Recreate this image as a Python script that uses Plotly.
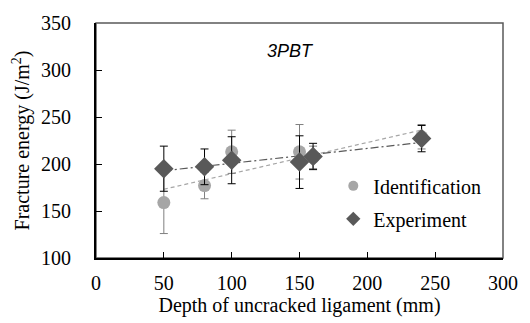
import numpy as np
import plotly.graph_objects as go

depth = [50, 80, 100, 150, 160, 240]
ident = [159, 177, 213, 213, 207, 229]
ident_err = [33, 14, 23, 29, 12, 13]
exper = [195, 197, 204, 202, 208, 227]
exper_err = [24, 19, 25, 28, 14, 14]

x_ticks = [0, 50, 100, 150, 200, 250, 300]
y_ticks = [100, 150, 200, 250, 300, 350]

xs = np.array([min(depth), max(depth)])
pi = np.polyfit(depth, ident, 1)
pe = np.polyfit(depth, exper, 1)

fig = go.Figure()
fig.add_trace(go.Scatter(x=xs, y=np.polyval(pi, xs), mode="lines",
                         line=dict(color="#A6A6A6", width=1.2, dash="4px,3px"),
                         showlegend=False, hoverinfo="skip"))
fig.add_trace(go.Scatter(x=xs, y=np.polyval(pe, xs), mode="lines",
                         line=dict(color="#595959", width=1.2, dash="8px,3px,2px,3px"),
                         showlegend=False, hoverinfo="skip"))
fig.add_trace(go.Scatter(x=depth, y=ident, mode="markers", name="Identification",
                         legendgroup="a", showlegend=False,
                         marker=dict(symbol="circle", size=13, color="#A6A6A6"),
                         error_y=dict(type="data", array=ident_err, color="#7F7F7F",
                                      thickness=1, width=4)))
fig.add_trace(go.Scatter(x=depth, y=exper, mode="markers", name="Experiment",
                         legendgroup="b", showlegend=False,
                         marker=dict(symbol="diamond", size=15, color="#595959"),
                         error_y=dict(type="data", array=exper_err, color="#000000",
                                      thickness=1, width=4)))
# legend entries with the smaller legend symbols of the original
fig.add_trace(go.Scatter(x=[None], y=[None], mode="markers", name="Identification",
                         legendgroup="a",
                         marker=dict(symbol="circle", size=10, color="#A6A6A6")))
fig.add_trace(go.Scatter(x=[None], y=[None], mode="markers", name="Experiment",
                         legendgroup="b",
                         marker=dict(symbol="diamond", size=11, color="#595959")))

font_serif = "Liberation Serif, Times New Roman, serif"
fig.update_layout(
    width=530, height=323,
    margin=dict(l=96, r=23, t=20, b=64),
    paper_bgcolor="white", plot_bgcolor="white",
    font=dict(family=font_serif, size=20, color="#000000"),
    showlegend=True,
    legend=dict(x=0.583, y=0.39, xanchor="left", yanchor="top",
                bgcolor="rgba(0,0,0,0)", font=dict(size=20, family=font_serif, color="#000"),
                tracegroupgap=4, itemwidth=30),
    shapes=[dict(type="rect", xref="paper", yref="paper", x0=0, x1=1, y0=0, y1=1,
                 line=dict(color="#595959", width=1.5), layer="below")],
    xaxis=dict(range=[0, 300], tickvals=x_ticks, ticks="inside", ticklen=6,
               tickcolor="#000", showgrid=False, zeroline=False,
               tickfont=dict(size=20, color="#000"), ticklabelstandoff=6,
               showline=True, linecolor="#000", linewidth=2, mirror=False,
               title=dict(text="Depth of uncracked ligament (mm)", standoff=3,
                          font=dict(size=20, color="#000"))),
    yaxis=dict(range=[100, 350], tickvals=y_ticks, ticks="inside", ticklen=6,
               tickcolor="#000", showgrid=False, zeroline=False,
               tickfont=dict(size=20, color="#000"), ticklabelstandoff=19,
               showline=True, linecolor="#000", linewidth=2, mirror=False,
               title=dict(text="Fracture energy (J/m<sup>2</sup>)", standoff=6,
                          font=dict(size=20, color="#000"))),
    annotations=[dict(text="<i>3PBT</i>", x=0.479, y=0.93, xref="paper", yref="paper",
                      showarrow=False,
                      font=dict(family="Liberation Sans, Arial, sans-serif", size=18,
                                color="#000"))],
)
fig.write_html("out.html")
